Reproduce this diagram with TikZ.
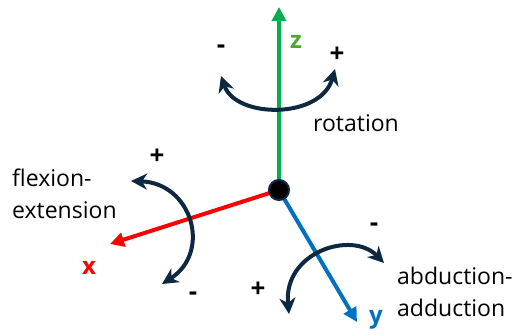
\documentclass[tikz,border=0pt]{standalone}
\usepackage{fontspec}
\setmainfont{Open Sans}
\usetikzlibrary{arrows.meta}
\definecolor{zgreen}{HTML}{00B050}
\definecolor{zlab}{HTML}{4EA72E}
\definecolor{xred}{HTML}{FF0000}
\definecolor{yblue}{HTML}{0070C0}
\definecolor{navy}{HTML}{0E2841}
\tikzset{
  axis/.style={line width=4pt, -{Triangle[length=14pt,width=14pt]}},
  motion/.style={navy, line width=4pt, {Stealth[length=16pt,width=16pt,inset=5pt]}-{Stealth[length=16pt,width=16pt,inset=5pt]}},
  axlabel/.style={font=\fontsize{24}{24}\selectfont\bfseries, inner sep=0pt},
  sign/.style={font=\fontsize{26}{26}\selectfont\bfseries, inner sep=0pt},
  desc/.style={font=\fontsize{23}{32}\selectfont, inner sep=0pt, align=left},
}
\begin{document}
\begin{tikzpicture}[x=1pt,y=-1pt]
\useasboundingbox (0,0) rectangle (520,335);
% center joint
\coordinate (c) at (279,190);
\coordinate (zend) at (279,7);
\coordinate (xend) at (110,244);
\coordinate (yend) at (357,322);
\draw[axis, zgreen] (c) -- (zend);
\draw[axis, xred] (c) -- (xend);
\draw[axis, yblue] (c) -- (yend);
\node[circle, fill=black, draw=navy, line width=2pt, minimum size=20pt, inner sep=0pt] (joint) at (c) {};
% axis labels
\node[axlabel, text=zlab] (zl) at (296,42) {z};
\node[axlabel, text=xred] (xl) at (89,268) {x};
\node[axlabel, text=yblue] (yl) at (376,320) {y};
% rotation
\coordinate (r1) at (221,76);
\coordinate (r2) at (335,69);
\draw[motion] (r1) .. controls (236,119) and (321,119) .. (r2);
\node[sign] (rm) at (221,49) {-};
\node[sign] (rp) at (337,55) {+};
\node[desc] (rot) at (356,123) {rotation};
% flexion-extension
\coordinate (f1) at (131,181);
\coordinate (f2) at (162,284);
\draw[motion] (f1) .. controls (192,183) and (212,252) .. (f2);
\node[sign] (fp) at (157,157) {+};
\node[sign] (fm) at (193,296) {-};
\node[desc, anchor=west] (flex) at (12,194) {flexion-\\extension};
% abduction-adduction
\coordinate (a1) at (289,314);
\coordinate (a2) at (384,263);
\draw[motion] (a1) .. controls (283,252) and (352,230) .. (a2);
\node[sign] (am) at (374,227) {-};
\node[sign] (ap) at (258,290) {+};
\node[desc, anchor=west] (abd) at (397,292) {abduction-\\adduction};
\end{tikzpicture}
\end{document}
